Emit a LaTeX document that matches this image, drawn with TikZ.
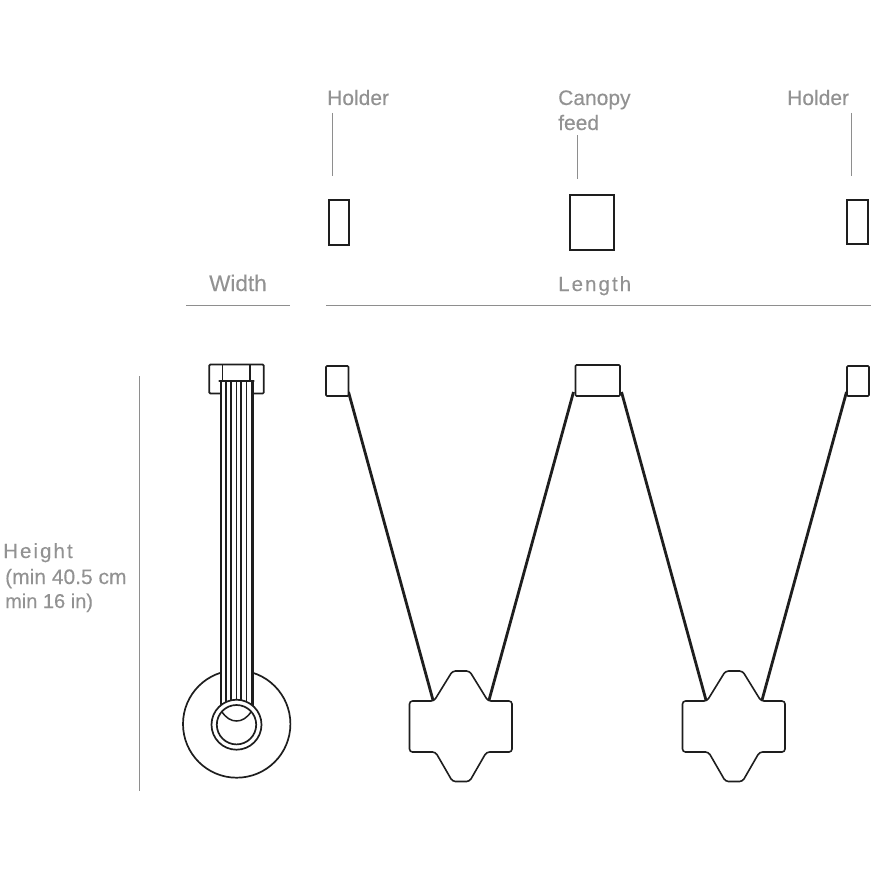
\documentclass[tikz,border=0pt]{standalone}
\usepackage{fontspec}
\setmainfont[FakeBold=0.25]{Liberation Sans}
\newfontfamily\spacedfont[LetterSpace=10,FakeBold=0.25]{Liberation Sans}
\definecolor{lab}{HTML}{929292}
\definecolor{leader}{HTML}{8E8E8E}
\definecolor{ink}{HTML}{1E1E1E}
\tikzset{
  labeltext/.style={anchor=base west,inner sep=0pt,text=lab,font=\fontsize{21}{24}\selectfont},
  spacedtext/.style={anchor=base west,inner sep=0pt,text=lab,font=\spacedfont\fontsize{20.5}{24}\selectfont},
  leaderline/.style={draw=leader,line width=1pt},
  boxline/.style={draw=ink,line width=2pt,fill=white},
  thinbox/.style={draw=ink,line width=1.7pt,fill=white,rounded corners=1pt},
  wire/.style={draw=ink,line width=2.8pt},
  ringline/.style={draw=ink,line width=1.7pt,fill=white},
  crossline/.style={draw=ink,line width=1.6pt,fill=white,rounded corners=3pt,line join=round}
}
\begin{document}
\begin{tikzpicture}[x=1pt,y=-1pt]
\useasboundingbox (0,0) rectangle (880,880);
% labels
\node[labeltext] (holderL) at (327,105) {Holder};
\node[labeltext] (canopy) at (558,105) {Canopy};
\node[labeltext] (feed) at (558,130) {feed};
\node[labeltext] (holderR) at (787,105) {Holder};
\node[labeltext,font=\fontsize{22.5}{24}\selectfont] (width) at (209,291) {Width};
\node[spacedtext] (length) at (558,291) {Length};
\node[spacedtext] (height) at (3,558) {Height};
\node[labeltext] (minA) at (5,584) {(min 40.5 cm};
\node[labeltext,font=\fontsize{20}{24}\selectfont] (minB) at (5,608) {min 16 in)};
% leaders
\draw[leaderline] (332.5,113) -- (332.5,176);
\draw[leaderline] (577.5,135) -- (577.5,179);
\draw[leaderline] (851,113) -- (851,176);
\draw[leaderline] (186,305.5) -- (290,305.5);
\draw[leaderline] (326,305.5) -- (871,305.5);
\draw[leaderline] (139.5,376) -- (139.5,791);
% top view
\draw[boxline] (328.5,199.5) rectangle (349.2,245.2);
\draw[boxline] (570,195) rectangle (614,250);
\draw[boxline] (847,200) rectangle (868,244);
% wires
\coordinate (w1) at (348.5,392);
\coordinate (w2) at (433.5,702);
\coordinate (w3) at (573.5,392);
\coordinate (w4) at (488.5,702);
\coordinate (w5) at (621.5,392);
\coordinate (w6) at (706.5,702);
\coordinate (w7) at (846.5,392);
\coordinate (w8) at (761.5,702);
\draw[wire] (w1) -- (w2);
\draw[wire] (w3) -- (w4);
\draw[wire] (w5) -- (w6);
\draw[wire] (w7) -- (w8);
% holders
\draw[thinbox] (326,366) rectangle (348.5,396);
\draw[thinbox] (575.5,365) rectangle (620,396);
\draw[thinbox] (847,366) rectangle (869,396);
% crosses
\foreach \dx in {0,273}{
\begin{scope}[xshift=\dx pt]
\draw[crossline] (409.5,701) -- (434,701) -- (452.5,671) -- (469.5,671) -- (488,701) -- (512,701)
  -- (512,752) -- (486.5,752) -- (469.5,781.5) -- (452.5,781.5) -- (435.5,752) -- (409.5,752) -- cycle;
\end{scope}}
% side view
\draw[thinbox] (209.3,364.5) rectangle (263.7,393.5);
\draw[draw=ink,line width=1.3pt] (222.7,364.5) -- (222.7,381);
\draw[draw=ink,line width=1.3pt] (250,364.5) -- (250,381);
\draw[ringline] (236.7,724) circle (53.7);
\fill[white] (220.7,381) rectangle (252.5,712);
\draw[ink,line width=1.2pt] (226,381) -- (226,712);
\draw[ink,line width=2.2pt] (231,381) -- (231,712);
\draw[ink,line width=1.2pt] (236.3,381) -- (236.3,712);
\draw[ink,line width=2.2pt] (241.3,381) -- (241.3,712);
\draw[ink,line width=1.2pt] (246.7,381) -- (246.7,712);
\draw[ink,line width=2.6pt] (221,381) -- (221,712);
\draw[ink,line width=2.6pt] (252.3,381) -- (252.3,712);
\draw[ink,line width=2.6pt,line cap=round] (219.5,381) -- (253.5,381);
\draw[ringline] (236.5,724.7) circle (25);
\draw[ringline] (236.5,724.7) circle (19.7);
\draw[draw=ink,line width=1.5pt] (221.7,711.5) .. controls (226,718) and (231,721) .. (236.5,721) .. controls (242,721) and (247,718) .. (251.3,711.5);
\end{tikzpicture}
\end{document}
